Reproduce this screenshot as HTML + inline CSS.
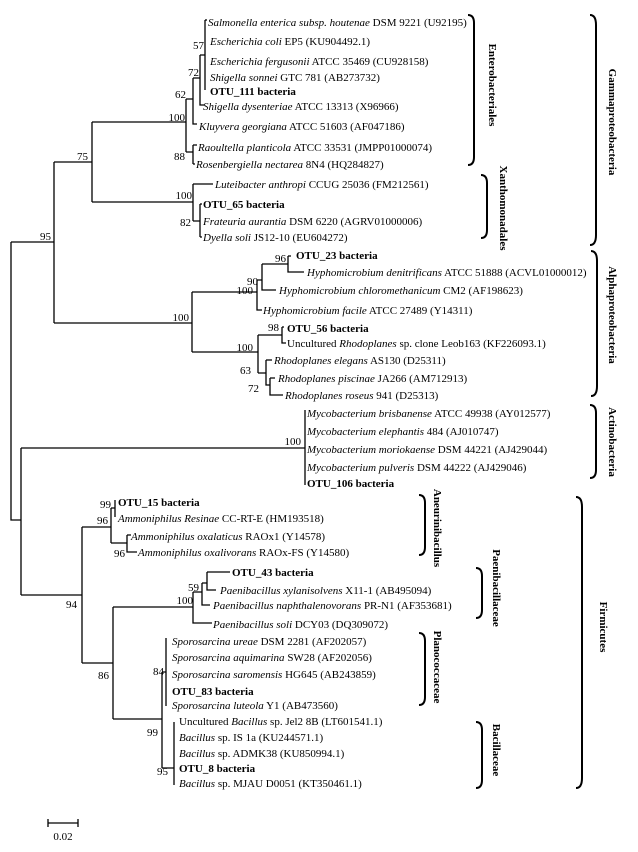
<!DOCTYPE html>
<html><head><meta charset="utf-8"><style>
html,body{margin:0;padding:0;background:#fff}
svg{display:block}
text{font-family:"Liberation Serif",serif;font-size:11px;fill:#000}
.b{font-weight:bold}
.i{font-style:italic}
.bs{font-size:11px}
.rt{font-weight:bold;font-size:11px}
</style></head><body>
<svg width="638" height="852" viewBox="0 0 638 852" xmlns="http://www.w3.org/2000/svg">
<g stroke="#000" stroke-width="1.3" fill="none">
<!-- root -->
<path d="M11 242V520H21 M11 242H54"/>
<path d="M54 162V323 M54 162H92 M54 323H192"/>
<path d="M92 122V202 M92 122H186 M92 202H193"/>
<!-- Enterobacteriales -->
<path d="M186 99V152 M186 99H193 M186 152H193"/>
<path d="M193 78V124H197 M193 78H200"/>
<path d="M200 55V105H204 M200 55H205"/>
<path d="M205 20V90"/>
<path d="M205 20H207"/>
<path d="M193 145V164 M193 145H197 M193 164H195"/>
<!-- Xanthomonadales -->
<path d="M193 184V221 M193 184H213 M193 221H200"/>
<path d="M200 204V237 M200 204H202 M200 237H202"/>
<!-- Alpha -->
<path d="M192 292V352 M192 292H257 M192 352H258"/>
<path d="M257 280V310H262 M257 280H262"/>
<path d="M262 264V290H276 M262 264H288"/>
<path d="M288 256V272H304 M288 256H291"/>
<path d="M258 335V373 M258 335H282 M258 373H266"/>
<path d="M282 327V343H286 M282 327H284"/>
<path d="M266 360V385H270 M266 360H272"/>
<path d="M270 378V395H283 M270 378H275"/>
<!-- Actino -->
<path d="M21 448V595 M21 448H305"/>
<path d="M305 410V485"/>
<!-- Firmicutes -->
<path d="M21 595H82 M82 527V663 M82 527H111 M82 663H113"/>
<path d="M111 508V543 M111 508H115 M111 543H127"/>
<path d="M115 500V517"/>
<path d="M127 535V552H137 M127 535H131"/>
<path d="M113 607V719 M113 607H193 M113 719H162"/>
<path d="M193 592V623H212 M193 592H202"/>
<path d="M202 583V605H210 M202 583H207"/>
<path d="M207 572V590H216 M207 572H230"/>
<path d="M162 672V768 M162 672H166 M162 768H174"/>
<path d="M166 638V706"/>
<path d="M174 722V785"/>
<!-- scale -->
<path d="M48 823H78 M48 819V827 M78 819V827"/>
</g>
<g stroke="#000" stroke-width="2" fill="none">
<path d="M468 15Q474 15 474 23V157Q474 165 468 165"/>
<path d="M481 175Q487 175 487 183V230Q487 238 481 238"/>
<path d="M590 15Q596 15 596 25V235Q596 245 590 245"/>
<path d="M591 251Q597 251 597 261V386Q597 396 591 396"/>
<path d="M590 405Q596 405 596 413V470Q596 478 590 478"/>
<path d="M419 495Q425 495 425 503V547Q425 555 419 555"/>
<path d="M476 568Q482 568 482 576V610Q482 618 476 618"/>
<path d="M419 633Q425 633 425 641V697Q425 705 419 705"/>
<path d="M476 722Q482 722 482 730V780Q482 788 476 788"/>
<path d="M576 497Q582 497 582 507V778Q582 788 576 788"/>
</g>
<!-- bracket labels -->
<text class="rt" text-anchor="middle" transform="translate(489,85) rotate(90)">Enterobacteriales</text>
<text class="rt" text-anchor="middle" transform="translate(500,208) rotate(90)">Xanthomonadales</text>
<text class="rt" text-anchor="middle" transform="translate(609,122) rotate(90)">Gammaproteobacteria</text>
<text class="rt" text-anchor="middle" transform="translate(609,315) rotate(90)">Alphaproteobacteria</text>
<text class="rt" text-anchor="middle" transform="translate(609,442) rotate(90)">Actinobacteria</text>
<text class="rt" text-anchor="middle" transform="translate(434,528) rotate(90)">Aneurinibacillus</text>
<text class="rt" text-anchor="middle" transform="translate(493,588) rotate(90)">Paenibacillaceae</text>
<text class="rt" text-anchor="middle" transform="translate(434,667) rotate(90)">Planococcaceae</text>
<text class="rt" text-anchor="middle" transform="translate(493,750) rotate(90)">Bacillaceae</text>
<text class="rt" text-anchor="middle" transform="translate(600,627) rotate(90)">Firmicutes</text>
<!-- taxa -->
<text x="208" y="26"><tspan class="i">Salmonella enterica subsp. houtenae</tspan> DSM 9221 (U92195)</text>
<text x="210" y="45"><tspan class="i">Escherichia coli</tspan> EP5 (KU904492.1)</text>
<text x="210" y="65"><tspan class="i">Escherichia fergusonii</tspan> ATCC 35469 (CU928158)</text>
<text x="210" y="81"><tspan class="i">Shigella sonnei</tspan> GTC 781 (AB273732)</text>
<text x="210" y="95" class="b">OTU_111 bacteria</text>
<text x="203" y="110"><tspan class="i">Shigella dysenteriae</tspan> ATCC 13313 (X96966)</text>
<text x="199" y="130"><tspan class="i">Kluyvera georgiana</tspan> ATCC 51603 (AF047186)</text>
<text x="198" y="151"><tspan class="i">Raoultella planticola</tspan> ATCC 33531 (JMPP01000074)</text>
<text x="196" y="168"><tspan class="i">Rosenbergiella nectarea</tspan> 8N4 (HQ284827)</text>
<text x="215" y="188"><tspan class="i">Luteibacter anthropi</tspan> CCUG 25036 (FM212561)</text>
<text x="203" y="208" class="b">OTU_65 bacteria</text>
<text x="203" y="225"><tspan class="i">Frateuria aurantia</tspan> DSM 6220 (AGRV01000006)</text>
<text x="203" y="241"><tspan class="i">Dyella soli</tspan> JS12-10 (EU604272)</text>
<text x="296" y="259" class="b">OTU_23 bacteria</text>
<text x="307" y="276"><tspan class="i">Hyphomicrobium denitrificans</tspan> ATCC 51888 (ACVL01000012)</text>
<text x="279" y="294"><tspan class="i">Hyphomicrobium chloromethanicum</tspan> CM2 (AF198623)</text>
<text x="263" y="314"><tspan class="i">Hyphomicrobium facile</tspan> ATCC 27489 (Y14311)</text>
<text x="287" y="332" class="b">OTU_56 bacteria</text>
<text x="287" y="347">Uncultured <tspan class="i">Rhodoplanes</tspan> sp. clone Leob163 (KF226093.1)</text>
<text x="274" y="364"><tspan class="i">Rhodoplanes elegans</tspan> AS130 (D25311)</text>
<text x="278" y="382"><tspan class="i">Rhodoplanes piscinae</tspan> JA266 (AM712913)</text>
<text x="285" y="399"><tspan class="i">Rhodoplanes roseus</tspan> 941 (D25313)</text>
<text x="307" y="417"><tspan class="i">Mycobacterium brisbanense</tspan> ATCC 49938 (AY012577)</text>
<text x="307" y="435"><tspan class="i">Mycobacterium elephantis</tspan> 484 (AJ010747)</text>
<text x="307" y="453"><tspan class="i">Mycobacterium moriokaense</tspan> DSM 44221 (AJ429044)</text>
<text x="307" y="471"><tspan class="i">Mycobacterium pulveris</tspan> DSM 44222 (AJ429046)</text>
<text x="307" y="487" class="b">OTU_106 bacteria</text>
<text x="118" y="506" class="b">OTU_15 bacteria</text>
<text x="118" y="522"><tspan class="i">Ammoniphilus Resinae</tspan> CC-RT-E (HM193518)</text>
<text x="131" y="540"><tspan class="i">Ammoniphilus oxalaticus</tspan> RAOx1 (Y14578)</text>
<text x="138" y="556"><tspan class="i">Ammoniphilus oxalivorans</tspan> RAOx-FS (Y14580)</text>
<text x="232" y="576" class="b">OTU_43 bacteria</text>
<text x="220" y="594"><tspan class="i">Paenibacillus xylanisolvens</tspan> X11-1 (AB495094)</text>
<text x="213" y="609"><tspan class="i">Paenibacillus naphthalenovorans</tspan> PR-N1 (AF353681)</text>
<text x="213" y="628"><tspan class="i">Paenibacillus soli</tspan> DCY03 (DQ309072)</text>
<text x="172" y="645"><tspan class="i">Sporosarcina ureae</tspan> DSM 2281 (AF202057)</text>
<text x="172" y="661"><tspan class="i">Sporosarcina aquimarina</tspan> SW28 (AF202056)</text>
<text x="172" y="678"><tspan class="i">Sporosarcina saromensis</tspan> HG645 (AB243859)</text>
<text x="172" y="695" class="b">OTU_83 bacteria</text>
<text x="172" y="709"><tspan class="i">Sporosarcina luteola</tspan> Y1 (AB473560)</text>
<text x="179" y="725">Uncultured <tspan class="i">Bacillus</tspan> sp. Jel2 8B (LT601541.1)</text>
<text x="179" y="741"><tspan class="i">Bacillus</tspan> sp. IS 1a (KU244571.1)</text>
<text x="179" y="757"><tspan class="i">Bacillus</tspan> sp. ADMK38 (KU850994.1)</text>
<text x="179" y="772" class="b">OTU_8 bacteria</text>
<text x="179" y="787"><tspan class="i">Bacillus</tspan> sp. MJAU D0051 (KT350461.1)</text>
<!-- bootstrap -->
<g text-anchor="end">
<text x="204" y="49">57</text>
<text x="199" y="76">72</text>
<text x="186" y="98">62</text>
<text x="185" y="121">100</text>
<text x="185" y="160">88</text>
<text x="88" y="160">75</text>
<text x="192" y="199">100</text>
<text x="191" y="226">82</text>
<text x="51" y="240">95</text>
<text x="286" y="262">96</text>
<text x="258" y="285">90</text>
<text x="253" y="294">100</text>
<text x="189" y="321">100</text>
<text x="279" y="331">98</text>
<text x="253" y="351">100</text>
<text x="251" y="374">63</text>
<text x="259" y="392">72</text>
<text x="301" y="445">100</text>
<text x="111" y="508">99</text>
<text x="108" y="524">96</text>
<text x="125" y="557">96</text>
<text x="199" y="591">59</text>
<text x="193" y="604">100</text>
<text x="77" y="608">94</text>
<text x="164" y="675">84</text>
<text x="109" y="679">86</text>
<text x="158" y="736">99</text>
<text x="168" y="775">95</text>
</g>
<text x="63" y="840" text-anchor="middle">0.02</text>
</svg>
</body></html>
